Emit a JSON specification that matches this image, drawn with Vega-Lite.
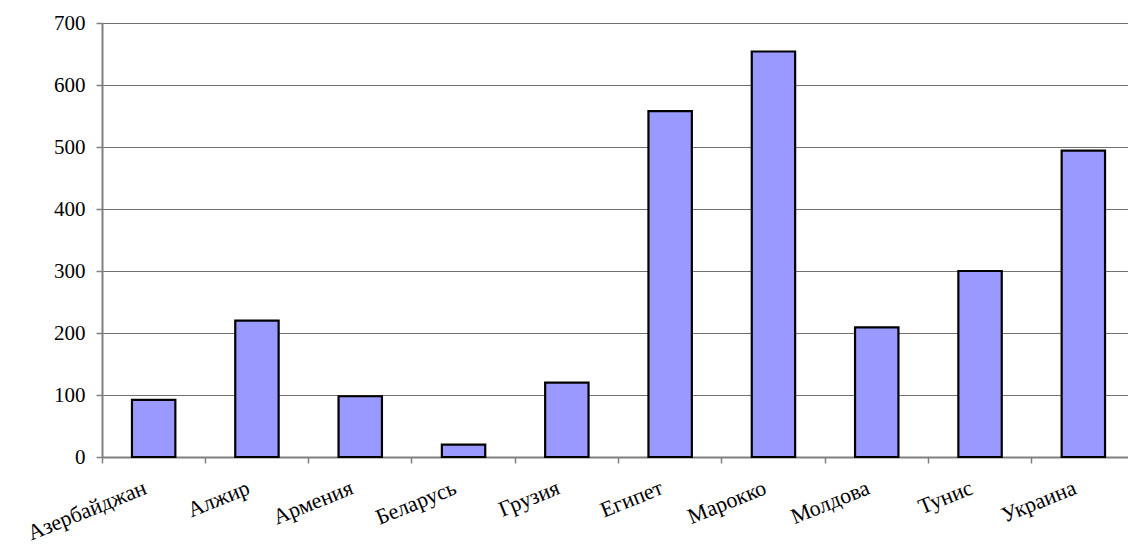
{
  "$schema": "https://vega.github.io/schema/vega-lite/v6.json",
  "autosize": {"type": "none"},
  "padding": {"left": 102, "top": 23, "right": 0, "bottom": 92},
  "width": 1033,
  "height": 434,
  "background": "white",
  "data": {
    "values": [
      {"country": "Азербайджан", "value": 92},
      {"country": "Алжир", "value": 220},
      {"country": "Армения", "value": 98},
      {"country": "Беларусь", "value": 20},
      {"country": "Грузия", "value": 120},
      {"country": "Египет", "value": 558},
      {"country": "Марокко", "value": 654},
      {"country": "Молдова", "value": 209},
      {"country": "Тунис", "value": 300},
      {"country": "Украина", "value": 494}
    ]
  },
  "mark": {"type": "bar", "width": {"band": 0.42}, "fill": "#9999FF", "stroke": "#000000", "strokeWidth": 2.2},
  "encoding": {
    "x": {
      "field": "country",
      "type": "nominal",
      "sort": null,
      "scale": {"paddingInner": 0, "paddingOuter": 0},
      "axis": {
        "title": null,
        "bandPosition": 0,
        "labelAngle": -22,
        "labelAlign": "right",
        "labelBaseline": "top",
        "labelFont": "Liberation Serif",
        "labelFontSize": 22,
        "labelColor": "#000000",
        "labelPadding": 14,
        "labelOffset": -12,
        "labelOverlap": false,
        "labelBound": false,
        "domainColor": "#808080",
        "domainWidth": 2,
        "tickColor": "#808080",
        "tickSize": 6,
        "tickWidth": 1.5,
        "grid": false
      }
    },
    "y": {
      "field": "value",
      "type": "quantitative",
      "scale": {"domain": [0, 700], "nice": false},
      "axis": {
        "title": null,
        "values": [0, 100, 200, 300, 400, 500, 600, 700],
        "labelFont": "Liberation Serif",
        "labelFontSize": 21,
        "labelColor": "#000000",
        "labelPadding": 11,
        "domainColor": "#808080",
        "domainWidth": 2,
        "tickColor": "#808080",
        "tickSize": 6,
        "tickWidth": 1.5,
        "grid": true,
        "gridColor": "#707070",
        "gridWidth": 1
      }
    }
  },
  "config": {"view": {"stroke": null}}
}
